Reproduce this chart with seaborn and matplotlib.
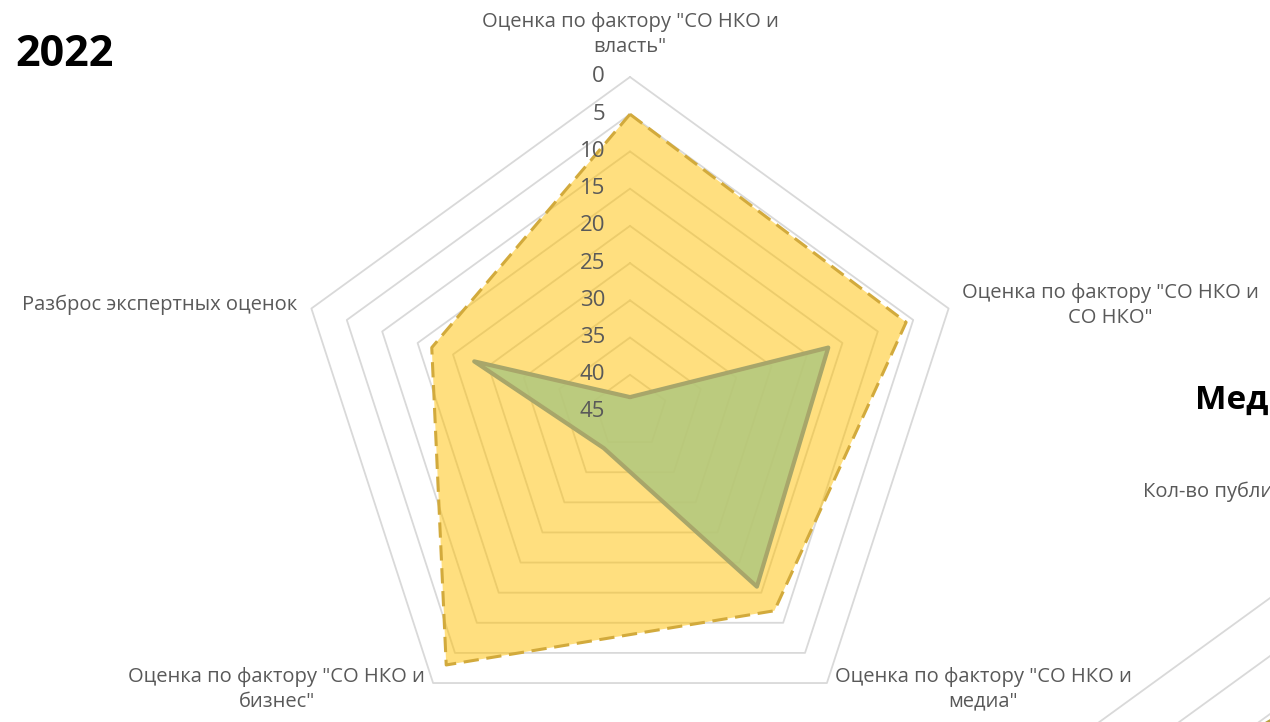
import numpy as np
import matplotlib
matplotlib.use("Agg")
import matplotlib.pyplot as plt
import seaborn as sns

# --- data ---
categories = [
    'Оценка по фактору "СО НКО и\nвласть"',
    'Оценка по фактору "СО НКО и\nСО НКО"',
    'Оценка по фактору "СО НКО и\nмедиа"',
    'Оценка по фактору "СО НКО и\nбизнес"',
    'Разброс экспертных оценок',
]
yellow_vals = [5, 6, 12, 3, 17]
green_vals = [43, 17, 16, 39, 23]
ring_ticks = [0, 5, 10, 15, 20, 25, 30, 35, 40, 45]

# second (cut-off) chart on the right
media_title = "Медиа"
media_top_label = "Кол-во публикаций в СМИ"
media_vals = [11.5, 20, 20, 20, 8.5]
media_ticks = [0, 5, 10, 15, 20, 25, 30]

sns.set_theme(style="white")
plt.rcParams['font.family'] = ['Open Sans', 'DejaVu Sans']

TEXT = "#595959"
GRID = "#D9D9D9"

W, H = 1270, 722
fig = plt.figure(figsize=(W / 100, H / 100), dpi=100)


def polar_axes(cx, cy, R):
    ax = fig.add_axes([(cx - R) / W, (H - cy - R) / H, 2 * R / W, 2 * R / H],
                      projection="polar")
    ax.set_theta_zero_location("N")
    ax.set_theta_direction(-1)
    ax.grid(False)
    ax.set_xticks([])
    ax.set_yticks([])
    ax.spines["polar"].set_visible(False)
    ax.patch.set_visible(False)
    return ax


def closed(vals):
    n = len(vals)
    th = np.linspace(0, 2 * np.pi, n, endpoint=False)
    return np.append(th, 2 * np.pi), np.append(vals, vals[0])


def draw_rings(ax, ticks):
    for t in ticks[:-1]:
        th, rr = closed([t] * 5)
        ax.plot(th, rr, color=GRID, lw=1.3, zorder=1, clip_on=False)


# ---- main chart 2022 ----
ax = polar_axes(630, 412, 335)
ax.set_ylim(ring_ticks[-1], ring_ticks[0])
draw_rings(ax, ring_ticks)

th, yv = closed(yellow_vals)
ax.fill(th, yv, color="#FFC000", alpha=0.5, lw=0, zorder=2)
sns.lineplot(x=th, y=yv, ax=ax, sort=False, estimator=None, color="#D2AA3C",
             lw=2.2, linestyle=(0, (5, 2.5)), zorder=3)

th, gv = closed(green_vals)
ax.fill(th, gv, color="#B0C87E", alpha=0.85, lw=0, zorder=4)
sns.lineplot(x=th, y=gv, ax=ax, sort=False, estimator=None, color="#A8A66A",
             lw=3, zorder=5)
ax.set_xlabel("")
ax.set_ylabel("")
ax.set_xticks([])
ax.set_yticks([])
ax.set_ylim(ring_ticks[-1], ring_ticks[0])

for t in ring_ticks:
    ax.annotate(str(t), xy=(0, t), xytext=(-25, 0), textcoords="offset pixels",
                ha="right", va="center", fontsize=16, color=TEXT,
                annotation_clip=False, zorder=6)

angles = np.linspace(0, 2 * np.pi, 5, endpoint=False)
label_pos = [((0, 20), "center", "bottom"),
             ((13, 3), "left", "center"),
             ((8, 16), "left", "top"),
             ((-8, 16), "right", "top"),
             ((-14, 4), "right", "center")]
for a, lab, (off, ha, va) in zip(angles, categories, label_pos):
    ax.annotate(lab, xy=(a, 0), xytext=off, textcoords="offset pixels",
                ha=ha, va=va, multialignment="center", fontsize=14.5,
                color=TEXT, annotation_clip=False, linespacing=1.3)

fig.text(15 / W, 1 - 55 / H, "2022", fontsize=31, fontweight="bold",
         color="black", va="center", ha="left")

# ---- cut-off media chart on the right ----
ax2 = polar_axes(1343, 893, 348)
ax2.set_ylim(media_ticks[-1], media_ticks[0])
draw_rings(ax2, media_ticks)
th, mv = closed(media_vals)
ax2.fill(th, mv, color="#FFC000", alpha=0.5, lw=0, zorder=2)
ax2.plot(th, mv, color="#B8A040", lw=2, zorder=3, clip_on=False)
ax2.set_ylim(media_ticks[-1], media_ticks[0])

fig.text(1195 / W, 1 - 400 / H, media_title, fontsize=24, fontweight="bold",
         color="black", va="center", ha="left")
fig.text(1143 / W, 1 - 492 / H, media_top_label, fontsize=14.5, color=TEXT,
         va="center", ha="left")

fig.savefig("out.png", dpi=100)
